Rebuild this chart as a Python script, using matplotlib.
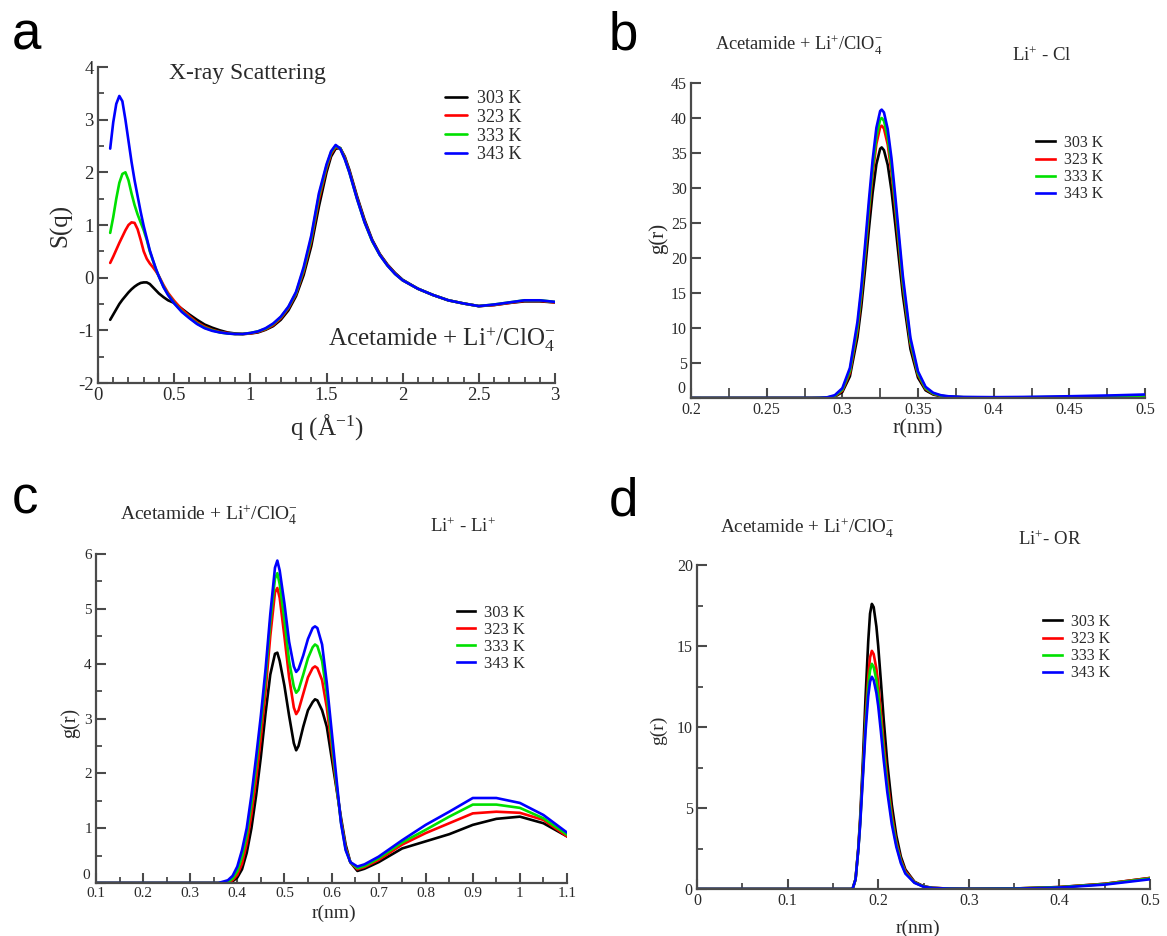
import matplotlib
matplotlib.use('Agg')
import matplotlib.pyplot as plt
from matplotlib.ticker import MultipleLocator, FormatStrFormatter, FuncFormatter

plt.rcParams['font.family'] = ['Liberation Serif', 'DejaVu Serif']
plt.rcParams['mathtext.fontset'] = 'custom'
plt.rcParams['mathtext.rm'] = 'Liberation Serif'
plt.rcParams['mathtext.it'] = 'Liberation Serif:italic'
plt.rcParams['mathtext.bf'] = 'Liberation Serif:bold'
plt.rcParams['axes.unicode_minus'] = False

# ---------------- data ----------------
temps = ['303 K', '323 K', '333 K', '343 K']
colors = ['#000000', '#ff0000', '#00e000', '#0000ff']

# (a) X-ray scattering S(q)
q_a = [0.08, 0.10, 0.12, 0.14, 0.16, 0.18, 0.20, 0.22, 0.24, 0.26, 0.28, 0.30, 0.32, 0.34,
       0.36, 0.38, 0.40, 0.43, 0.46, 0.50, 0.55, 0.60, 0.65, 0.70, 0.75, 0.80, 0.85, 0.90,
       0.95, 1.00, 1.05, 1.10, 1.15, 1.20, 1.25, 1.30, 1.35, 1.40, 1.45, 1.50, 1.53, 1.56,
       1.59, 1.62, 1.65, 1.70, 1.75, 1.80, 1.85, 1.90, 1.95, 2.00, 2.10, 2.20, 2.30, 2.40,
       2.50, 2.60, 2.70, 2.80, 2.90, 3.00]
s_303 = [-0.80, -0.70, -0.60, -0.50, -0.42, -0.35, -0.28, -0.22, -0.17, -0.13, -0.10, -0.09,
         -0.09, -0.12, -0.18, -0.24, -0.30, -0.37, -0.43, -0.48, -0.59, -0.70, -0.80, -0.89,
         -0.95, -1.00, -1.04, -1.06, -1.07, -1.06, -1.04, -0.99, -0.92, -0.80, -0.62, -0.35,
         0.05, 0.60, 1.35, 2.00, 2.30, 2.45, 2.46, 2.30, 2.05, 1.55, 1.10, 0.72, 0.45, 0.25,
         0.09, -0.04, -0.21, -0.33, -0.43, -0.49, -0.54, -0.52, -0.48, -0.45, -0.45, -0.47]
s_323 = [0.28, 0.40, 0.53, 0.66, 0.78, 0.90, 1.00, 1.05, 1.04, 0.92, 0.72, 0.50, 0.36, 0.27,
         0.20, 0.12, 0.03, -0.14, -0.29, -0.44, -0.60, -0.73, -0.85, -0.93, -0.99, -1.03,
         -1.05, -1.07, -1.07, -1.06, -1.03, -0.98, -0.90, -0.77, -0.58, -0.31, 0.12, 0.70,
         1.48, 2.08, 2.35, 2.48, 2.46, 2.28, 2.02, 1.52, 1.07, 0.70, 0.44, 0.24, 0.08, -0.05,
         -0.21, -0.33, -0.43, -0.49, -0.54, -0.52, -0.48, -0.44, -0.44, -0.47]
s_333 = [0.85, 1.15, 1.50, 1.80, 1.97, 2.00, 1.85, 1.60, 1.38, 1.20, 1.05, 0.90, 0.72, 0.50,
         0.33, 0.16, 0.02, -0.17, -0.32, -0.48, -0.64, -0.76, -0.87, -0.95, -1.00, -1.04,
         -1.06, -1.07, -1.07, -1.05, -1.02, -0.97, -0.88, -0.75, -0.56, -0.29, 0.16, 0.75,
         1.55, 2.12, 2.38, 2.50, 2.46, 2.26, 2.00, 1.50, 1.05, 0.69, 0.43, 0.23, 0.07, -0.05,
         -0.21, -0.33, -0.43, -0.49, -0.54, -0.51, -0.47, -0.43, -0.43, -0.46]
s_343 = [2.45, 2.95, 3.30, 3.45, 3.35, 3.00, 2.60, 2.20, 1.85, 1.55, 1.25, 0.98, 0.75, 0.52,
         0.34, 0.17, 0.02, -0.18, -0.33, -0.49, -0.65, -0.77, -0.88, -0.96, -1.01, -1.04,
         -1.06, -1.07, -1.07, -1.05, -1.02, -0.96, -0.87, -0.74, -0.55, -0.27, 0.20, 0.80,
         1.60, 2.15, 2.40, 2.52, 2.45, 2.25, 2.00, 1.50, 1.05, 0.70, 0.43, 0.23, 0.07, -0.05,
         -0.21, -0.33, -0.43, -0.49, -0.54, -0.51, -0.47, -0.43, -0.43, -0.46]

# (b) Li+ - Cl g(r)
r_b = [0.20, 0.28, 0.285, 0.29, 0.295, 0.30, 0.305, 0.31, 0.3125, 0.315, 0.3175, 0.32, 0.3225,
       0.325, 0.326, 0.3275, 0.33, 0.3325, 0.335, 0.3375, 0.34, 0.345, 0.35, 0.355, 0.36,
       0.365, 0.37, 0.38, 0.40, 0.42, 0.45, 0.48, 0.50]
g_b_303 = [0, 0, 0.005, 0.03, 0.18, 0.85, 3.1, 8.7, 13.0, 18.3, 24.0, 29.3, 33.4, 35.6, 35.8,
           35.4, 33.3, 29.6, 24.8, 19.7, 14.7, 7.0, 2.9, 1.1, 0.5, 0.25, 0.15, 0.08, 0.05,
           0.06, 0.10, 0.15, 0.20]
g_b_323 = [0, 0, 0.01, 0.05, 0.25, 1.05, 3.6, 9.7, 14.4, 20.1, 26.2, 31.9, 36.3, 38.7, 38.9,
           38.5, 36.2, 32.2, 27.0, 21.5, 16.1, 7.8, 3.3, 1.3, 0.6, 0.3, 0.18, 0.10, 0.07,
           0.08, 0.13, 0.20, 0.28]
g_b_333 = [0, 0, 0.015, 0.07, 0.30, 1.2, 3.9, 10.2, 15.0, 20.8, 27.0, 32.8, 37.3, 39.8, 40.0,
           39.6, 37.2, 33.1, 27.8, 22.2, 16.6, 8.1, 3.5, 1.4, 0.65, 0.33, 0.20, 0.11, 0.08,
           0.10, 0.16, 0.25, 0.35]
g_b_343 = [0, 0.01, 0.03, 0.10, 0.40, 1.4, 4.3, 10.9, 15.8, 21.8, 28.1, 34.0, 38.6, 41.0, 41.2,
           40.8, 38.4, 34.2, 28.8, 23.1, 17.4, 8.6, 3.8, 1.6, 0.75, 0.40, 0.25, 0.15, 0.12,
           0.15, 0.25, 0.38, 0.50]

# (c) Li+ - Li+ g(r)
r_c = [0.10, 0.30, 0.36, 0.38, 0.39, 0.40, 0.41, 0.42, 0.43, 0.44, 0.45, 0.46, 0.47, 0.48,
       0.485, 0.49, 0.50, 0.51, 0.52, 0.525, 0.53, 0.54, 0.55, 0.56, 0.565, 0.57, 0.58, 0.59,
       0.60, 0.61, 0.62, 0.63, 0.64, 0.655, 0.67, 0.70, 0.75, 0.80, 0.85, 0.90, 0.95, 1.00,
       1.05, 1.10]
g_c_303 = [0, 0, 0, 0.0, 0.03, 0.10, 0.25, 0.55, 1.0, 1.6, 2.3, 3.1, 3.8, 4.18, 4.2, 4.05,
           3.6, 3.05, 2.55, 2.42, 2.5, 2.85, 3.15, 3.3, 3.35, 3.33, 3.15, 2.85, 2.3, 1.75,
           1.2, 0.7, 0.38, 0.22, 0.26, 0.38, 0.63, 0.76, 0.89, 1.06, 1.17, 1.21, 1.09, 0.85]
g_c_323 = [0, 0, 0, 0.01, 0.05, 0.15, 0.35, 0.72, 1.25, 1.9, 2.65, 3.5, 4.5, 5.3, 5.38, 5.2,
           4.5, 3.75, 3.2, 3.08, 3.15, 3.45, 3.75, 3.92, 3.95, 3.92, 3.7, 3.2, 2.5, 1.8,
           1.15, 0.65, 0.38, 0.25, 0.29, 0.42, 0.70, 0.91, 1.09, 1.27, 1.30, 1.28, 1.15, 0.85]
g_c_333 = [0, 0, 0, 0.02, 0.08, 0.22, 0.48, 0.88, 1.45, 2.15, 2.9, 3.75, 4.75, 5.55, 5.65,
           5.45, 4.8, 4.05, 3.58, 3.47, 3.52, 3.8, 4.1, 4.3, 4.35, 4.32, 4.05, 3.45, 2.65,
           1.85, 1.12, 0.62, 0.38, 0.27, 0.31, 0.45, 0.74, 0.97, 1.21, 1.43, 1.43, 1.37, 1.18,
           0.88]
g_c_343 = [0, 0, 0, 0.05, 0.13, 0.30, 0.60, 1.0, 1.6, 2.3, 3.05, 3.9, 4.9, 5.75, 5.88, 5.7,
           5.1, 4.4, 3.95, 3.85, 3.9, 4.15, 4.45, 4.65, 4.68, 4.65, 4.35, 3.65, 2.8, 1.95,
           1.1, 0.6, 0.38, 0.30, 0.34, 0.48, 0.78, 1.06, 1.30, 1.55, 1.55, 1.46, 1.24, 0.92]

# (d) Li+ - OR g(r)
r_d = [0.0, 0.17, 0.172, 0.175, 0.178, 0.18, 0.183, 0.186, 0.189, 0.191, 0.193, 0.195, 0.198,
       0.20, 0.203, 0.206, 0.21, 0.215, 0.22, 0.225, 0.23, 0.24, 0.25, 0.26, 0.28, 0.30,
       0.35, 0.40, 0.45, 0.50]
g_d_303 = [0, 0, 0.05, 0.6, 2.5, 4.3, 7.8, 11.8, 15.3, 17.0, 17.6, 17.4, 16.2, 15.0, 12.8,
           10.5, 7.8, 5.2, 3.3, 2.0, 1.2, 0.45, 0.17, 0.07, 0.02, 0.01, 0.03, 0.12, 0.32, 0.68]
g_d_323 = [0, 0, 0.05, 0.6, 2.45, 4.1, 7.2, 10.5, 13.1, 14.3, 14.7, 14.5, 13.6, 12.7, 10.9,
           9.0, 6.8, 4.6, 2.9, 1.8, 1.1, 0.42, 0.16, 0.07, 0.02, 0.01, 0.03, 0.12, 0.32, 0.68]
g_d_333 = [0, 0, 0.05, 0.6, 2.4, 4.0, 7.0, 10.1, 12.5, 13.5, 13.9, 13.7, 12.9, 12.0, 10.3,
           8.5, 6.4, 4.3, 2.75, 1.7, 1.0, 0.40, 0.15, 0.06, 0.02, 0.01, 0.03, 0.11, 0.30, 0.65]
g_d_343 = [0, 0, 0.05, 0.6, 2.4, 3.9, 6.8, 9.7, 11.9, 12.8, 13.1, 12.9, 12.1, 11.3, 9.7,
           8.0, 6.0, 4.0, 2.6, 1.6, 0.95, 0.38, 0.14, 0.06, 0.02, 0.01, 0.02, 0.09, 0.27, 0.60]

# ---------------- figure ----------------
W, H = 1167, 936
fig = plt.figure(figsize=(W / 100, H / 100), dpi=100)
SPINE = '#4a4a4a'
TXT = '#2a2a2a'


def add_ax(l, t, r, b):
    return fig.add_axes([l / W, 1 - b / H, (r - l) / W, (b - t) / H])


def ftext(x, y, s, **kw):
    kw.setdefault('color', TXT)
    fig.text(x / W, 1 - y / H, s, **kw)


def style(ax, xlim, ylim, xmaj, xmin, ymaj, ymin, fs, lift_zero=False):
    ax.set_xlim(*xlim)
    ax.set_ylim(*ylim)
    for s in ('top', 'right'):
        ax.spines[s].set_visible(False)
    for s in ('left', 'bottom'):
        ax.spines[s].set_color(SPINE)
        ax.spines[s].set_linewidth(1.6)
    ax.xaxis.set_major_locator(MultipleLocator(xmaj))
    ax.yaxis.set_major_locator(MultipleLocator(ymaj))
    if xmin:
        ax.xaxis.set_minor_locator(MultipleLocator(xmin))
    if ymin:
        ax.yaxis.set_minor_locator(MultipleLocator(ymin))
    ax.xaxis.set_major_formatter(FormatStrFormatter('%g'))
    if lift_zero:
        ax.yaxis.set_major_formatter(FuncFormatter(lambda v, p: '' if abs(v) < 1e-9 else '%g' % v))
        ax.annotate('0', xy=(0, 0), xycoords=('axes fraction', 'data'), xytext=(-4, 1),
                    textcoords='offset points', ha='right', va='bottom', fontsize=fs,
                    color=TXT, annotation_clip=False)
    else:
        ax.yaxis.set_major_formatter(FormatStrFormatter('%g'))
    ax.tick_params(which='major', direction='in', length=7, width=1.5, color=SPINE,
                   labelsize=fs, labelcolor=TXT, pad=3)
    ax.tick_params(which='minor', direction='in', length=4, width=1.3, color=SPINE)
    ax.set_facecolor('none')


def legend(ax, x, y, fs, ls, hl):
    ax.legend(loc='upper left', bbox_to_anchor=(x / W, 1 - y / H),
              bbox_transform=fig.transFigure, frameon=False, fontsize=fs,
              labelspacing=ls, handlelength=hl, handletextpad=0.55,
              borderpad=0, borderaxespad=0, labelcolor=TXT)


LW = 1.9
ACET = r'Acetamide + Li$^{+}$/ClO$_{4}^{-}$'

# panel a
axa = add_ax(98, 67, 555, 383)
for s, c, t in zip([s_303, s_323, s_333, s_343], colors, temps):
    axa.plot(q_a, s, color=c, lw=LW, label=t, solid_capstyle='round')
style(axa, (0, 3), (-2, 4), 0.5, 0.1, 1, 0.5, 13.5)
legend(axa, 445, 90, 13, 0.1, 1.2)
ftext(169, 73, 'X-ray Scattering', fontsize=17, va='center')
ftext(328, 340, ACET, fontsize=18, va='center')
ftext(61, 225, 'S(q)', fontsize=18, rotation=90, ha='center', va='center')
ftext(327, 427, r'q (Å$^{-1}$)', fontsize=18, ha='center', va='center')
ftext(12, 50, 'a', fontsize=38, family='Liberation Sans', va='baseline', color='black')

# panel b
axb = add_ax(691, 83, 1145, 398)
for g, c, t in zip([g_b_303, g_b_323, g_b_333, g_b_343], colors, temps):
    axb.plot(r_b, g, color=c, lw=LW, label=t)
style(axb, (0.2, 0.5), (0, 45), 0.05, 0.025, 5, None, 11.5, lift_zero=True)
axb.tick_params(which='minor', length=7)
legend(axb, 1036, 135, 11.5, 0.07, 1.2)
ftext(715, 45, ACET, fontsize=13.2, va='center')
ftext(1012, 56, r'Li$^{+}$ - Cl', fontsize=13.5, va='center')
ftext(658, 238, 'g(r)', fontsize=15, rotation=90, ha='center', va='center')
ftext(918, 429, 'r(nm)', fontsize=16, ha='center', va='center')
ftext(609, 50, 'b', fontsize=38, family='Liberation Sans', va='baseline', color='black')

# panel c
axc = add_ax(96, 554, 567, 883)
for g, c, t in zip([g_c_303, g_c_323, g_c_333, g_c_343], colors, temps):
    axc.plot(r_c, g, color=c, lw=LW, label=t)
style(axc, (0.1, 1.1), (0, 6), 0.1, 0.05, 1, 0.5, 11, lift_zero=True)
legend(axc, 457, 605, 12, 0.05, 1.1)
ftext(120, 515, ACET, fontsize=14, va='center')
ftext(430, 527, r'Li$^{+}$ - Li$^{+}$', fontsize=13.5, va='center')
ftext(70, 723, 'g(r)', fontsize=14.5, rotation=90, ha='center', va='center')
ftext(334, 913, 'r(nm)', fontsize=14, ha='center', va='center')
ftext(12, 513, 'c', fontsize=38, family='Liberation Sans', va='baseline', color='black')

# panel d
axd = add_ax(697, 565, 1150, 889)
for g, c, t in zip([g_d_303, g_d_323, g_d_333, g_d_343], colors, temps):
    axd.plot(r_d, g, color=c, lw=LW, label=t)
style(axd, (0, 0.5), (0, 20), 0.1, 0.05, 5, 2.5, 11.5)
legend(axd, 1043, 614, 11.5, 0.07, 1.2)
ftext(720, 528, ACET, fontsize=13.8, va='center')
ftext(1018, 540, r'Li$^{+}$- OR', fontsize=13.5, va='center')
ftext(658, 730, 'g(r)', fontsize=14, rotation=90, ha='center', va='center')
ftext(918, 928, 'r(nm)', fontsize=14, ha='center', va='center')
ftext(609, 515, 'd', fontsize=38, family='Liberation Sans', va='baseline', color='black')

fig.savefig('out.png', dpi=100, facecolor='white')
